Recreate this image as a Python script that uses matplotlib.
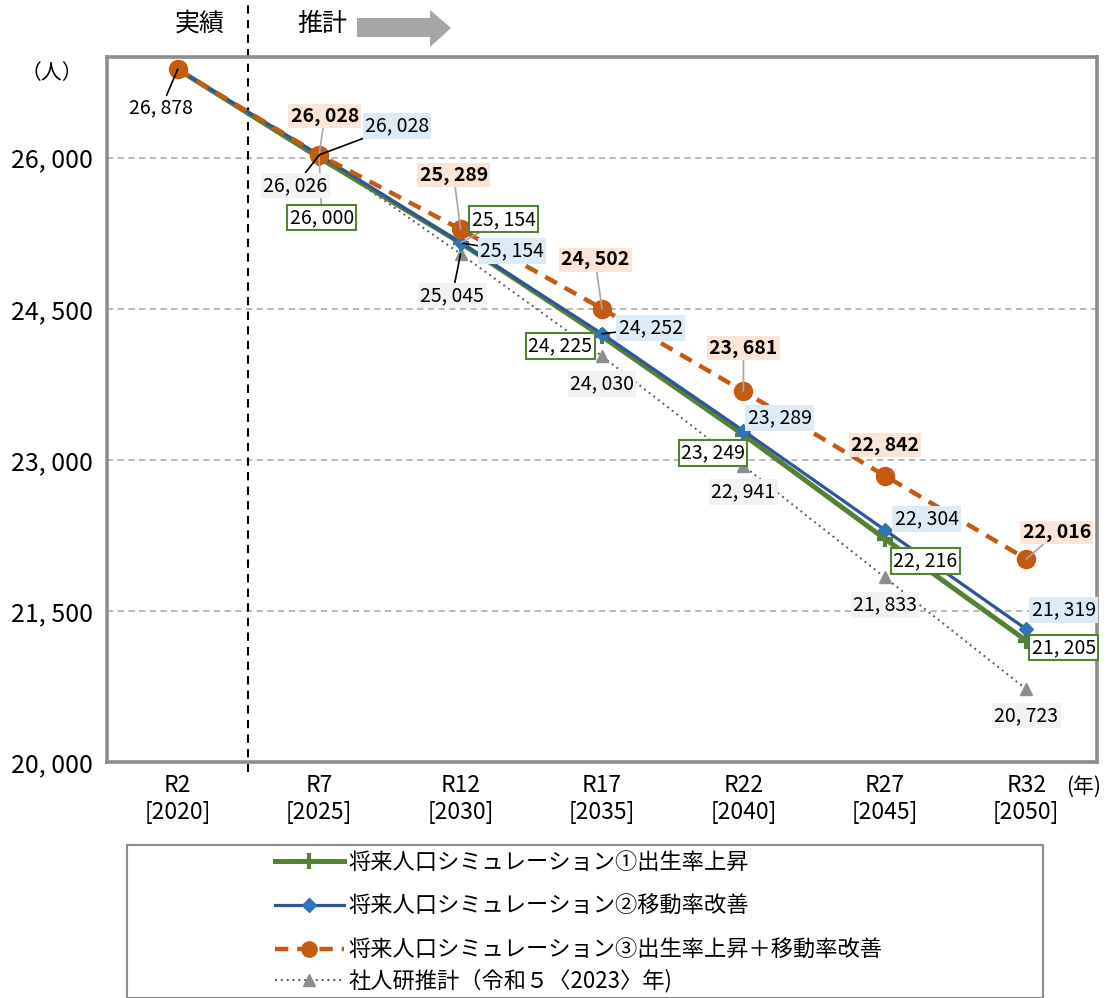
import matplotlib
matplotlib.use("Agg")
import matplotlib.pyplot as plt
from matplotlib.patches import Polygon, Rectangle
from matplotlib.lines import Line2D

plt.rcParams['font.family'] = ['Noto Sans CJK JP', 'DejaVu Sans']

# ---------------- data ----------------
categories = ["R2\n[2020]", "R7\n[2025]", "R12\n[2030]", "R17\n[2035]",
              "R22\n[2040]", "R27\n[2045]", "R32\n[2050]"]
sim1 = [26878, 26000, 25154, 24225, 23249, 22216, 21205]   # 出生率上昇
sim2 = [26878, 26028, 25154, 24252, 23289, 22304, 21319]   # 移動率改善
sim3 = [26878, 26028, 25289, 24502, 23681, 22842, 22016]   # 出生率上昇+移動率改善
ipss = [26878, 26026, 25045, 24030, 22941, 21833, 20723]   # 社人研推計
yticks = [20000, 21500, 23000, 24500, 26000]
names = ["将来人口シミュレーション①出生率上昇",
         "将来人口シミュレーション②移動率改善",
         "将来人口シミュレーション③出生率上昇＋移動率改善",
         "社人研推計（令和５〈2023〉年)"]

W, H = 1111, 998
fig = plt.figure(figsize=(W / 100, H / 100), dpi=100)
L, R, T, B = 107, 1097, 57, 762
ax = fig.add_axes([L / W, 1 - B / H, (R - L) / W, (B - T) / H])

x = list(range(len(categories)))

green, blue, bluem, orange, grayl, graym = "#548235", "#2F5597", "#2E75B6", "#C55A11", "#595959", "#8C8C8C"

ax.plot(x, ipss, color=grayl, lw=1.4, ls=(0, (1, 2)), marker="^", ms=9,
        mfc=graym, mec=graym, zorder=3)
ax.plot(x, sim1, color=green, lw=3.6, marker="+", ms=11, mew=3, mec=green, zorder=4)
ax.plot(x, sim2, color=blue, lw=2.3, marker="D", ms=7, mfc=bluem, mec=bluem, zorder=5)
ax.plot(x, sim3, color=orange, lw=3.2, ls=(0, (3, 2)), marker="o", ms=13,
        mfc=orange, mec=orange, zorder=6)

ax.set_xlim(-0.5, 6.5)
ax.set_ylim(20000, 27000)
ax.set_yticks(yticks)
ax.set_yticklabels([f"{v:,}".replace(",", ", ") for v in yticks], fontsize=18)
ax.set_xticks(x)
ax.set_xticklabels(categories, fontsize=16.5, linespacing=1.2)
ax.tick_params(length=0, pad=9)
ax.tick_params(axis="y", pad=10)
for v in yticks[1:]:
    ax.axhline(v, color="#A6A6A6", lw=1.1, ls=(0, (4, 3)), zorder=1)
for s in ax.spines.values():
    s.set_color("#8C8C8C")
    s.set_linewidth(2.6)

ax.axvline(0.5, ymin=-0.014, ymax=1.081, color="black", lw=1.5,
           ls=(0, (4, 3)), clip_on=False, zorder=2)

def fmt(v):
    return f"{v:,}".replace(",", ", ")

def lab(i, vals, dx, dy, fc, ec="none", bold=False, line=None):
    kw = {}
    if line:
        kw["arrowprops"] = dict(arrowstyle="-", color=line, lw=1.2, shrinkA=0, shrinkB=0)
    ax.annotate(fmt(vals[i]), (i, vals[i]), xytext=(dx, dy), textcoords="offset points",
                ha="center", va="center", fontsize=14,
                fontweight="bold" if bold else "normal",
                bbox=dict(boxstyle="square,pad=0.12", fc=fc, ec=ec, lw=1.5),
                zorder=10, **kw)

# first point
lab(0, ipss, -12, -28, "none", line="black")

# orange (sim3)
o_off = [None, (4, 28), (-5, 39), (-5, 35), (0, 31), (0, 22), (22, 19)]
for i in range(1, 7):
    lab(i, sim3, *o_off[i], "#FBE5D6", bold=True, line="#A6A6A6" if i != 5 else None)
# blue (sim2)
b_off = [None, (56, 21), (37, -6), (35, 4), (26, 9), (30, 8), (27, 14)]
for i in range(1, 7):
    lab(i, sim2, *b_off[i], "#DDEBF7", line="black" if i in (1, 2, 3) else None)
# green (sim1)
g_off = [None, (2, -43), (31, 17), (-30, -7), (-22, -13), (29, -16), (27, -5)]
for i in range(1, 7):
    lab(i, sim1, *g_off[i], "white", ec=green, line="#A6A6A6" if i in (1, 2) else None)
# gray (ipss)
k_off = [None, (-17, -22), (-6, -30), (0, -20), (0, -19), (0, -20), (0, -19)]
for i in range(1, 7):
    lab(i, ipss, *k_off[i], "#F2F2F2", line="black" if i in (1, 2) else None)

# header texts
fig.text(200 / W, 1 - 24 / H, "実績", fontsize=18, ha="center", va="center")
fig.text(322 / W, 1 - 24 / H, "推計", fontsize=18, ha="center", va="center")
arrow_px = [(357, 18), (430, 18), (430, 10), (451, 28), (430, 47), (430, 37), (357, 37)]
fig.add_artist(Polygon([(px / W, 1 - py / H) for px, py in arrow_px], closed=True,
                       transform=fig.transFigure, fc="#A6A6A6", ec="none"))
fig.text(52 / W, 1 - 73 / H, "（人）", fontsize=15, ha="center", va="center")
fig.text(1084 / W, 1 - 787 / H, "(年)", fontsize=15, ha="center", va="center")

# legend box
fig.add_artist(Rectangle((127 / W, 0), (1043 - 127) / W, 1 - 845 / H,
                         transform=fig.transFigure, fc="none", ec="#8C8C8C", lw=1.5))
handles = [
    Line2D([], [], color=green, lw=3.6, marker="+", ms=11, mew=3),
    Line2D([], [], color=blue, lw=2.3, marker="D", ms=7, mfc=bluem, mec=bluem),
    Line2D([], [], color=orange, lw=3.2, ls=(0, (3, 2)), marker="o", ms=11),
    Line2D([], [], color=grayl, lw=1.4, ls=(0, (1, 2)), marker="^", ms=9, mfc=graym, mec=graym),
]
leg_kw = dict(frameon=False, fontsize=16, handlelength=3.1, handletextpad=0.2,
              labelspacing=0.95, borderpad=0, borderaxespad=0)
fig.legend(handles[:3], names[:3], loc="upper left",
           bbox_to_anchor=(275 / W, 1 - 851 / H), **leg_kw)
fig.legend(handles[3:], names[3:], loc="center left",
           bbox_to_anchor=(275 / W, 1 - 981 / H), **leg_kw)

fig.savefig("out.png", dpi=100)
